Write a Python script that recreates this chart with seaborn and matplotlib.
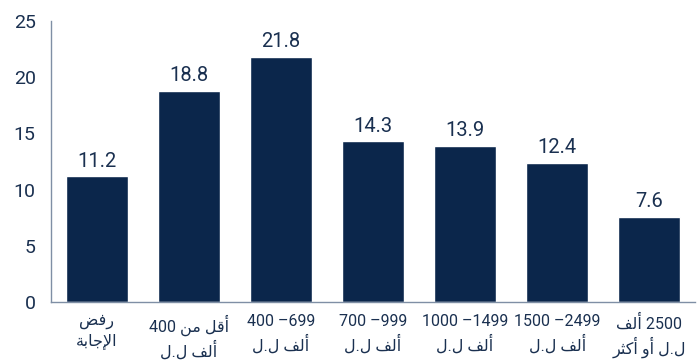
import matplotlib
matplotlib.use("Agg")
import matplotlib.pyplot as plt
import pandas as pd
import seaborn as sns


# data
cats = ["refuse", "lt400", "400-699", "700-999", "1000-1499", "1500-2499", "2500+"]
values = [11.2, 18.8, 21.8, 14.3, 13.9, 12.4, 7.6]
labels_logical = [
    "رفض\nالإجابة",
    "أقل من 400\nألف ل.ل",
    "400 –699\nألف ل.ل",
    "700 –999\nألف ل.ل",
    "1000 –1499\nألف ل.ل",
    "1500 –2499\nألف ل.ل",
    "2500 ألف\nل.ل أو أكثر",
]
y_ticks = [0, 5, 10, 15, 20, 25]


# small arabic shaper (matplotlib does no shaping on its own)
FORMS = {
    'ا': ('\uFE8D', '\uFE8E', None, None),
    'أ': ('\uFE83', '\uFE84', None, None),
    'إ': ('\uFE87', '\uFE88', None, None),
    'ب': ('\uFE8F', '\uFE90', '\uFE91', '\uFE92'),
    'ة': ('\uFE93', '\uFE94', None, None),
    'ث': ('\uFE99', '\uFE9A', '\uFE9B', '\uFE9C'),
    'ج': ('\uFE9D', '\uFE9E', '\uFE9F', '\uFEA0'),
    'ر': ('\uFEAD', '\uFEAE', None, None),
    'ض': ('\uFEBD', '\uFEBE', '\uFEBF', '\uFEC0'),
    'ف': ('\uFED1', '\uFED2', '\uFED3', '\uFED4'),
    'ق': ('\uFED5', '\uFED6', '\uFED7', '\uFED8'),
    'ك': ('\uFED9', '\uFEDA', '\uFEDB', '\uFEDC'),
    'ل': ('\uFEDD', '\uFEDE', '\uFEDF', '\uFEE0'),
    'م': ('\uFEE1', '\uFEE2', '\uFEE3', '\uFEE4'),
    'ن': ('\uFEE5', '\uFEE6', '\uFEE7', '\uFEE8'),
    'و': ('\uFEED', '\uFEEE', None, None),
}
LAM_ALEF = {'ا': ('\uFEFB', '\uFEFC'), 'أ': ('\uFEF7', '\uFEF8'), 'إ': ('\uFEF9', '\uFEFA')}


def is_arabic(w):
    return any(c in FORMS for c in w)


def shape_word(w):
    if not is_arabic(w):
        return w
    chars = list(w)
    out = []
    i = 0
    while i < len(chars):
        c = chars[i]
        if c not in FORMS:
            out.append(c)
            i += 1
            continue
        prev = chars[i - 1] if i > 0 else None
        joins_prev = prev in FORMS and FORMS[prev][2] is not None
        if c == 'ل' and i + 1 < len(chars) and chars[i + 1] in LAM_ALEF:
            out.append(LAM_ALEF[chars[i + 1]][1 if joins_prev else 0])
            i += 2
            continue
        nxt = chars[i + 1] if i + 1 < len(chars) else None
        joins_next = FORMS[c][2] is not None and nxt in FORMS
        iso, fin, ini, med = FORMS[c]
        if joins_prev and joins_next:
            out.append(med)
        elif joins_prev:
            out.append(fin)
        elif joins_next:
            out.append(ini)
        else:
            out.append(iso)
        i += 1
    return ''.join(reversed(out))


def shape(text):
    # lines with arabic are laid out right to left
    lines = []
    for line in text.split("\n"):
        words = line.split(" ")
        if is_arabic(line):
            words = words[::-1]
        lines.append(" ".join(shape_word(w) for w in words))
    return "\n".join(lines)


navy = "#0b264b"
text_col = "#1a3050"
axis_col = "#7f8fa5"

sns.set_style("white")
plt.rcParams['font.family'] = ['Roboto', 'DejaVu Sans']

df = pd.DataFrame({"cat": cats, "value": values})

fig = plt.figure(figsize=(6.98, 3.62), dpi=100)
ax = fig.add_axes([0.073, 0.166, 0.923, 0.776])

sns.barplot(data=df, x="cat", y="value", color=navy, saturation=1,
            width=0.68, ax=ax)

for c in ax.containers:
    ax.bar_label(c, fmt="%.1f", padding=4, fontsize=14.5, color=text_col)

ax.set_xlim(-0.5, len(cats) - 0.5)
ax.set_ylim(0, 25)
ax.set_yticks(y_ticks)
ax.set_xticks(range(len(cats)))
ax.set_xticklabels([shape(t) for t in labels_logical], fontsize=11.5,
                   color=text_col, linespacing=1.3)
ax.set_xticks([i - 0.5 for i in range(len(cats) + 1)], minor=True)
ax.tick_params(axis="x", which="major", length=0, pad=9)
ax.tick_params(axis="x", which="minor", length=6, width=1, color=axis_col,
               direction="out")
ax.tick_params(axis="y", length=5, width=1, color=axis_col, direction="out",
               labelsize=14, labelcolor=text_col, pad=6)
ax.set_xlabel("")
ax.set_ylabel("")

sns.despine(ax=ax, top=True, right=True)
for side in ["left", "bottom"]:
    ax.spines[side].set_color(axis_col)
    ax.spines[side].set_linewidth(1)

fig.savefig("out.png", dpi=100)
